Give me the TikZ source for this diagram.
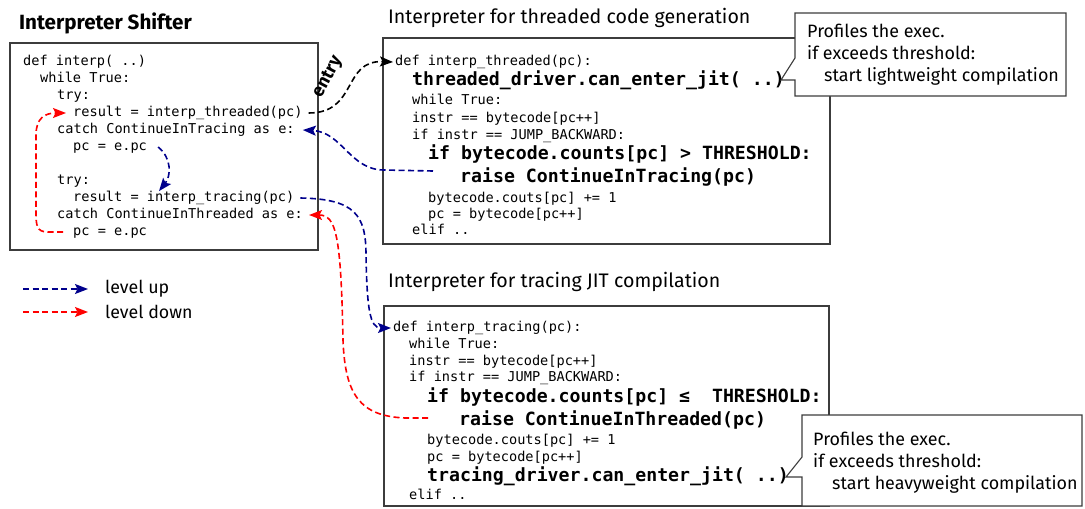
\documentclass[tikz,border=0pt]{standalone}
\usepackage{fontspec}
\setmainfont{Fira Sans}
\setmonofont{DejaVu Sans Mono}
\usetikzlibrary{arrows.meta}
\definecolor{upblue}{RGB}{0,0,140}
\definecolor{boxgray}{RGB}{60,60,60}
\tikzset{
  code/.style={font=\ttfamily\fontsize{13.6}{15}\selectfont, anchor=west, inner sep=0pt, text height=10pt, text depth=3.4pt},
  bigcode/.style={font=\ttfamily\bfseries\fontsize{18.2}{20}\selectfont, anchor=west, inner sep=0pt, text height=13.4pt, text depth=4.6pt},
  heading/.style={font=\fontsize{19.6}{22}\selectfont, anchor=west, inner sep=0pt},
  legtext/.style={font=\fontsize{17.8}{20}\selectfont, anchor=west, inner sep=0pt},
  codebox/.style={draw=boxgray, line width=1.3pt},
  notebox/.style={draw=boxgray, fill=white, line width=1.1pt, line join=miter},
  notetext/.style={anchor=west, inner sep=0pt, align=left, font=\fontsize{17.9}{22}\selectfont},
  flow/.style={line width=1.6pt, dash pattern=on 6pt off 3.5pt, -{Stealth[length=13pt,width=10pt,inset=2.5pt]}},
  up/.style={flow, upblue},
  down/.style={flow, red},
  entryarrow/.style={flow, black}
}
\begin{document}
\begin{tikzpicture}[x=1pt,y=-1pt]
\useasboundingbox (0,0) rectangle (1085,509);
\draw[codebox] (10,43) rectangle (318,250);
\draw[codebox] (383,38) rectangle (830,244);
\draw[codebox] (384,306) rectangle (829,506);
\node[heading, font=\bfseries\fontsize{20.6}{22}\selectfont] (hd0) at (19,23) {Interpreter Shifter};
\node[heading] (hd1) at (388,18) {Interpreter for threaded code generation};
\node[heading] (hd2) at (388,282) {Interpreter for tracing JIT compilation};

\node[code] (sh0) at (23,62) {def interp( ..)};
\node[code] (sh1) at (40,79) {while True:};
\node[code] (sh2) at (57,96) {try:};
\node[code] (sh3) at (73,113) {result = interp\_threaded(pc)};
\node[code] (sh4) at (57,130) {catch ContinueInTracing as e:};
\node[code] (sh5) at (73,147) {pc = e.pc};
\node[code] (sh6) at (57,181) {try:};
\node[code] (sh7) at (73,198) {result = interp\_tracing(pc)};
\node[code] (sh8) at (57,215) {catch ContinueInThreaded as e:};
\node[code] (sh9) at (73,232) {pc = e.pc};

\node[code] (th0) at (395,62) {def interp\_threaded(pc):};
\node[bigcode] (th1) at (412,81) {threaded\_driver.can\_enter\_jit( ..)};
\node[code] (th2) at (412,101) {while True:};
\node[code] (th3) at (412,119) {instr == bytecode[pc++]};
\node[code] (th4) at (412,136) {if instr == JUMP\_BACKWARD:};
\node[bigcode] (th5) at (428,155) {if bytecode.counts[pc] > THRESHOLD:};
\node[bigcode] (th6) at (460,178) {raise ContinueInTracing(pc)};
\node[code] (th7) at (428,199) {bytecode.couts[pc] += 1};
\node[code] (th8) at (428,215) {pc = bytecode[pc++]};
\node[code] (th9) at (412,231) {elif ..};

\node[code] (tr0) at (393,328) {def interp\_tracing(pc):};
\node[code] (tr1) at (409,345) {while True:};
\node[code] (tr2) at (409,362) {instr == bytecode[pc++]};
\node[code] (tr3) at (409,378) {if instr == JUMP\_BACKWARD:};
\node[bigcode] (tr4) at (427,398) {if bytecode.counts[pc] ≤~~THRESHOLD:};
\node[bigcode] (tr5) at (459,421) {raise ContinueInThreaded(pc)};
\node[code] (tr6) at (427,441) {bytecode.couts[pc] += 1};
\node[code] (tr7) at (427,458) {pc = bytecode[pc++]};
\node[bigcode] (tr8) at (427,477) {tracing\_driver.can\_enter\_jit( ..)};
\node[code] (tr9) at (409,496) {elif ..};

\draw[notebox] (795,13) -- (1066,13) -- (1066,96) -- (795,96) -- (795,80) -- (781,80) -- (795,58) -- cycle;
\node[notetext] (nt0) at (807,55) {Profiles the exec.\\if exceeds threshold:\\\hspace*{17pt}start lightweight compilation};
\draw[notebox] (802,415) -- (1082,415) -- (1082,506) -- (802,506) -- (802,477) -- (786,477) -- (802,457) -- cycle;
\node[notetext] (nt1) at (813,463) {Profiles the exec.\\if exceeds threshold:\\\hspace*{19pt}start heavyweight compilation};

\coordinate (tup) at (433,171);
\coordinate (tdn) at (428,418);
\draw[entryarrow] ([xshift=6pt]sh3.east) .. controls (358,113) and (342,60) .. ([xshift=-2pt]th0.west);
\node[font=\bfseries\fontsize{18}{20}\selectfont, rotate=62, inner sep=0pt] (entry) at (328,77) {entry};
\draw[up] (tup) -- (384,170) .. controls (350,170) and (342,132) .. ([xshift=8pt]sh4.east);
\draw[up] ([xshift=11pt]sh5.east) .. controls (172,158) and (171,176) .. ([xshift=86pt]sh7.north west);
\draw[up] ([xshift=6pt]sh7.east) .. controls (355,199) and (366,215) .. (366,255) .. controls (367,310) and (370,328) .. ([xshift=-2pt]tr0.west);
\draw[down] (tdn) -- (405,418) .. controls (360,416) and (345,395) .. (343,340) .. controls (341,235) and (336,215) .. ([xshift=6pt]sh8.east);
\draw[down] ([xshift=-10pt]sh9.west) -- (48,232) .. controls (36,232) and (36,225) .. (36,210) -- (36,135) .. controls (36,118) and (45,113) .. ([xshift=-7pt]sh3.west);

\coordinate (lg0) at (23,289);
\coordinate (lg1) at (88,289);
\coordinate (lg2) at (23,312);
\coordinate (lg3) at (88,312);
\draw[up] (lg0) -- (lg1);
\draw[down] (lg2) -- (lg3);
\node[legtext] (lgup) at (105,289) {level up};
\node[legtext] (lgdown) at (105,312) {level down};
\end{tikzpicture}
\end{document}
